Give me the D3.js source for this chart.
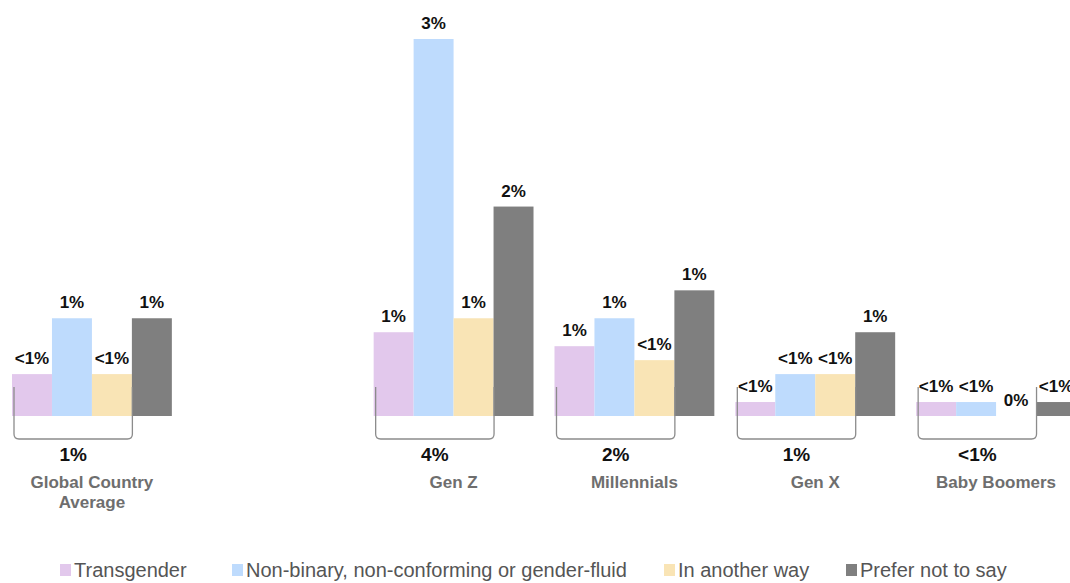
<!DOCTYPE html>
<html>
<head>
<meta charset="utf-8">
<script src="https://cdn.jsdelivr.net/npm/d3@7"></script>
<style>
  body { margin: 0; background: #fff; }
  text { font-family: "Liberation Sans", Arial, sans-serif; }
</style>
</head>
<body>
<svg width="1070" height="583"></svg>
<script>
// categories ("" is the empty slot between the global average and Gen Z)
var categories = ["Global Country Average", "", "Gen Z", "Millennials", "Gen X", "Baby Boomers"];
var series = ["Transgender", "Non-binary, non-conforming or gender-fluid", "In another way", "Prefer not to say"];
var colors = ["#e2c8ec", "#bedbfd", "#f9e4b5", "#7f7f7f"];

// values in % (one array per series, same order as categories)
var transgender = [0.3, null, 0.6, 0.5, 0.1, 0.1];
var nonBinary   = [0.7, null, 2.7, 0.7, 0.3, 0.1];
var anotherWay  = [0.3, null, 0.7, 0.4, 0.3, 0.0];
var preferNot   = [0.7, null, 1.5, 0.9, 0.6, 0.1];

// bracket totals (first three series)
var totals = ["1%", null, "4%", "2%", "1%", "<1%"];

var svg = d3.select("svg"),
    width = +svg.attr("width"),
    height = +svg.attr("height");

var baseline = 416;

var x0 = d3.scaleBand()
    .domain(categories.map(function(d, i) { return i; }))
    .range([12, 1076])
    .paddingInner(21 / 181)
    .paddingOuter(0);

var x1 = d3.scaleBand()
    .domain(series)
    .range([0, x0.bandwidth()]);

var y = d3.scaleLinear()
    .domain([0, 2.7])
    .range([baseline, 39]);

var table = categories.map(function(c, i) {
  return {
    index: i,
    name: c,
    values: [transgender[i], nonBinary[i], anotherWay[i], preferNot[i]].map(function(v, j) {
      return { key: series[j], value: v, color: colors[j] };
    }),
    total: totals[i]
  };
}).filter(function(d) { return d.name !== ""; });

function pctLabel(v) {
  if (v === 0) return "0%";
  if (v < 0.5) return "<1%";
  return Math.round(v) + "%";
}

var groups = svg.append("g")
  .selectAll("g")
  .data(table)
  .enter().append("g")
    .attr("transform", function(d) { return "translate(" + x0(d.index) + ",0)"; });

groups.selectAll("rect")
  .data(function(d) { return d.values; })
  .enter().append("rect")
    .attr("x", function(d) { return x1(d.key); })
    .attr("y", function(d) { return y(d.value); })
    .attr("width", x1.bandwidth())
    .attr("height", function(d) { return baseline - y(d.value); })
    .attr("fill", function(d) { return d.color; });

groups.selectAll("text.val")
  .data(function(d) { return d.values; })
  .enter().append("text")
    .attr("class", "val")
    .attr("x", function(d) { return x1(d.key) + x1.bandwidth() / 2; })
    .attr("y", function(d) { return y(d.value) - 10; })
    .attr("text-anchor", "middle")
    .style("font-size", "17px")
    .style("font-weight", "bold")
    .attr("fill", "#111")
    .text(function(d) { return pctLabel(d.value); });

// bracket under the first three bars
var bx0 = x1(series[0]) + 2,
    bx1 = x1(series[3]) + 0.5,
    byTop = 387,
    byBot = 439,
    r = 5;

groups.append("path")
    .attr("d", "M" + bx0 + "," + byTop +
               "V" + (byBot - r) +
               "Q" + bx0 + "," + byBot + " " + (bx0 + r) + "," + byBot +
               "H" + (bx1 - r) +
               "Q" + bx1 + "," + byBot + " " + bx1 + "," + (byBot - r) +
               "V" + byTop)
    .attr("fill", "none")
    .attr("stroke", "#8c8c8c")
    .attr("stroke-width", 1.3);

groups.append("text")
    .attr("x", (bx0 + bx1) / 2)
    .attr("y", 461)
    .attr("text-anchor", "middle")
    .style("font-size", "19px")
    .style("font-weight", "bold")
    .attr("fill", "#111")
    .text(function(d) { return d.total; });

// category labels (wrapped on two lines where needed)
var catLabel = groups.append("text")
    .attr("text-anchor", "middle")
    .style("font-size", "17px")
    .style("font-weight", "bold")
    .attr("fill", "#6e6e6e");

catLabel.each(function(d) {
  var lines = d.name === "Global Country Average" ? ["Global Country", "Average"] : [d.name];
  var t = d3.select(this);
  lines.forEach(function(l, k) {
    t.append("tspan")
      .attr("x", x0.bandwidth() / 2)
      .attr("y", 488 + k * 20)
      .text(l);
  });
});

// legend
var legendX = [60, 232, 664, 846];
var legend = svg.append("g")
  .selectAll("g")
  .data(series)
  .enter().append("g")
    .attr("transform", function(d, i) { return "translate(" + legendX[i] + ",0)"; });

legend.append("rect")
    .attr("x", 0)
    .attr("y", 564)
    .attr("width", 11)
    .attr("height", 12)
    .attr("fill", function(d, i) { return colors[i]; });

legend.append("text")
    .attr("x", 14)
    .attr("y", 577)
    .style("font-size", "20px")
    .attr("fill", "#555")
    .text(function(d) { return d; });
</script>
</body>
</html>
